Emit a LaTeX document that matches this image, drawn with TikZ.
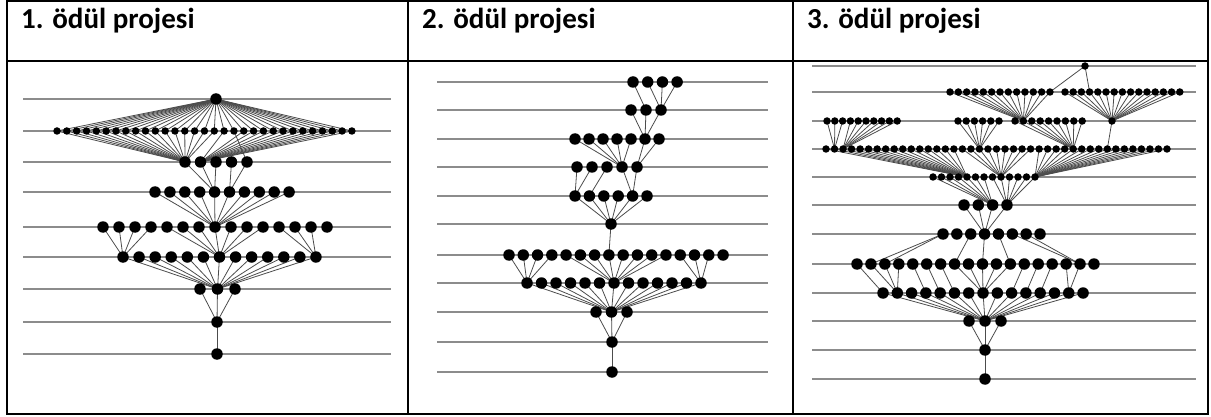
\documentclass[tikz,border=0pt]{standalone}
\usepackage{fontspec}
\setmainfont{Carlito}
\usetikzlibrary{backgrounds}

\tikzset{
        dot/.style={circle,fill=black,inner sep=0pt,minimum size=11.5pt},
        small dot/.style={dot,minimum size=7.5pt},
        level/.style={black!45,line width=1.3pt},
        edge/.style={black!70,line width=0.8pt},
        frame/.style={line width=2pt},
        header/.style={anchor=base west,inner sep=0pt,font=\bfseries\fontsize{29}{35}\selectfont},
    }

% row of dots: name, style, count, first x, step, y
\newcommand{\dotrow}[6]{%
    \foreach \i in {1,...,#3}
        \node[#2] (#1-\i) at ({#4+(\i-1)*#5},#6) {};%
}
% edges from some dots of a row to one dot
\newcommand{\fan}[3]{%
    \foreach \i in {#2}
        \draw[edge] (#1-\i.center) -- (#3.center);%
}

\begin{document}
\begin{tikzpicture}[x=1pt,y=-1pt]
    \useasboundingbox (0,0) rectangle (1211,417);

    %table
    \draw[frame] (7,1) rectangle (1208,414);
    \draw[frame] (7,61) -- (1208,61);
    \draw[frame] (408,1) -- (408,414);
    \draw[frame] (793,1) -- (793,414);
    \node[header] (h1) at (21,29) {1. ödül projesi};
    \node[header] (h2) at (422,29) {2. ödül projesi};
    \node[header] (h3) at (807,29) {3. ödül projesi};

    %first project
    \node[dot] (a1) at (216,99) {};
    \dotrow{a2}{small dot}{31}{57}{9.83}{131}
    \dotrow{a3}{dot}{5}{185}{15.5}{162}
    \dotrow{a4}{dot}{10}{155}{14.9}{192}
    \dotrow{a5}{dot}{15}{103}{16}{227}
    \dotrow{a6}{dot}{13}{123}{16.08}{257}
    \dotrow{a7}{dot}{3}{200}{17.5}{289}
    \node[dot] (a8) at (217,322) {};
    \node[dot] (a9) at (217,354) {};

    %second project
    \dotrow{b1}{dot}{4}{633}{14.7}{82}
    \dotrow{b2}{dot}{3}{631}{15}{110}
    \dotrow{b3}{dot}{7}{575}{14}{139}
    \dotrow{b4}{dot}{5}{577}{15}{167}
    \dotrow{b5}{dot}{6}{575}{14.4}{196}
    \node[dot] (b6) at (611,224) {};
    \dotrow{b7}{dot}{16}{509}{14.27}{255}
    \dotrow{b8}{dot}{13}{527}{14.5}{283}
    \dotrow{b9}{dot}{3}{596}{15.5}{312}
    \node[dot] (b10) at (612,342) {};
    \node[dot] (b11) at (612,372) {};

    %third project
    \node[small dot] (c1) at (1085,66) {};
    \dotrow{c2l}{small dot}{13}{950}{8.33}{92}
    \dotrow{c2r}{small dot}{15}{1065}{8.2}{92}
    \dotrow{c3a}{small dot}{10}{827}{7.8}{121}
    \dotrow{c3b}{small dot}{6}{958}{8.2}{121}
    \dotrow{c3c}{small dot}{9}{1015}{8.4}{121}
    \node[small dot] (c3d) at (1112,121) {};
    \dotrow{c4}{small dot}{41}{826}{8.525}{149}
    \dotrow{c5}{small dot}{13}{933}{8.5}{177}
    \dotrow{c6}{dot}{4}{964}{14.33}{205}
    \dotrow{c7}{dot}{8}{943}{13.86}{234}
    \dotrow{c8}{dot}{18}{857}{13.94}{264}
    \dotrow{c9}{dot}{15}{883}{14.29}{293}
    \dotrow{c10}{dot}{3}{969}{16}{321}
    \node[dot] (c11) at (985,350) {};
    \node[dot] (c12) at (985,379) {};

    \begin{pgfonlayer}{background}
        %levels
        \foreach \y in {99,131,162,192,227,257,289,322,354}
            \draw[level] (23,\y) -- (391,\y);
        \foreach \y in {82,110,139,167,196,224,255,283,312,342,372}
            \draw[level] (437,\y) -- (768,\y);
        \foreach \y in {66,92,121,149,177,205,234,264,293,321,350,379}
            \draw[level] (812,\y) -- (1196,\y);

        %edges first project
        \fan{a2}{1,...,31}{a1}
        \fan{a2}{1,...,17}{a3-1}
        \fan{a2}{18,20,21,...,31}{a3-2}
        \fan{a2}{19}{a3-5}
        \fan{a3}{1,2,3}{a4-5}
        \fan{a3}{4,5}{a4-6}
        \fan{a4}{1,...,10}{a5-8}
        \fan{a5}{1,...,4}{a6-1}
        \fan{a5}{5,...,11}{a6-7}
        \fan{a5}{12,13,14}{a6-13}
        \fan{a6}{1,...,13}{a7-2}
        \fan{a7}{1,2,3}{a8}
        \draw[edge] (a8.center) -- (a9.center);

        %edges second project
        \fan{b1}{1}{b2-2}
        \fan{b1}{2,3,4}{b2-3}
        \fan{b2}{1,2,3}{b3-6}
        \fan{b3}{1,...,5}{b4-4}
        \fan{b3}{6,7}{b4-5}
        \fan{b4}{1,2}{b5-1}
        \fan{b4}{3}{b5-2}
        \fan{b4}{4,5}{b5-5}
        \fan{b5}{1,...,6}{b6}
        \draw[edge] (b6.center) -- (b7-8.center);
        \fan{b7}{1,...,4}{b8-1}
        \fan{b7}{5,...,12}{b8-7}
        \fan{b7}{13,14,15}{b8-13}
        \fan{b8}{1,...,13}{b9-2}
        \fan{b9}{1,2,3}{b10}
        \draw[edge] (b10.center) -- (b11.center);

        %edges third project
        \draw[edge] (c1.center) -- (c2l-13.center);
        \draw[edge] (c1.center) -- (c2r-4.center);
        \fan{c2l}{1,...,13}{c3c-2}
        \fan{c2r}{1,...,15}{c3d}
        \fan{c3a}{1,2,3}{c4-2}
        \fan{c3a}{4,...,10}{c4-3}
        \fan{c3b}{1,...,6}{c4-19}
        \fan{c3c}{1,...,9}{c4-30}
        \draw[edge] (c3d.center) -- (c4-34.center);
        \fan{c4}{1,...,16}{c5-5}
        \fan{c4}{17,...,25}{c5-9}
        \fan{c4}{26,...,41}{c5-13}
        \fan{c5}{1,...,7}{c6-3}
        \fan{c5}{8,...,13}{c6-4}
        \fan{c6}{1,...,4}{c7-4}
        \fan{c7}{1}{c8-2}
        \fan{c7}{1}{c8-3}
        \fan{c7}{3}{c8-8}
        \fan{c7}{4}{c8-10}
        \fan{c7}{5}{c8-12}
        \fan{c7}{6,7}{c8-17}
        \foreach \i/\j in {1/1,2/2,3/2,4/2,5/4,6/5,7/6,8/8,9/8,10/8,11/8,12/8,13/10,14/11,15/12,16/14,17/14}
            \draw[edge] (c8-\i.center) -- (c9-\j.center);
        \fan{c9}{1,...,15}{c10-2}
        \fan{c10}{1,2,3}{c11}
        \draw[edge] (c11.center) -- (c12.center);
    \end{pgfonlayer}
\end{tikzpicture}
\end{document}
